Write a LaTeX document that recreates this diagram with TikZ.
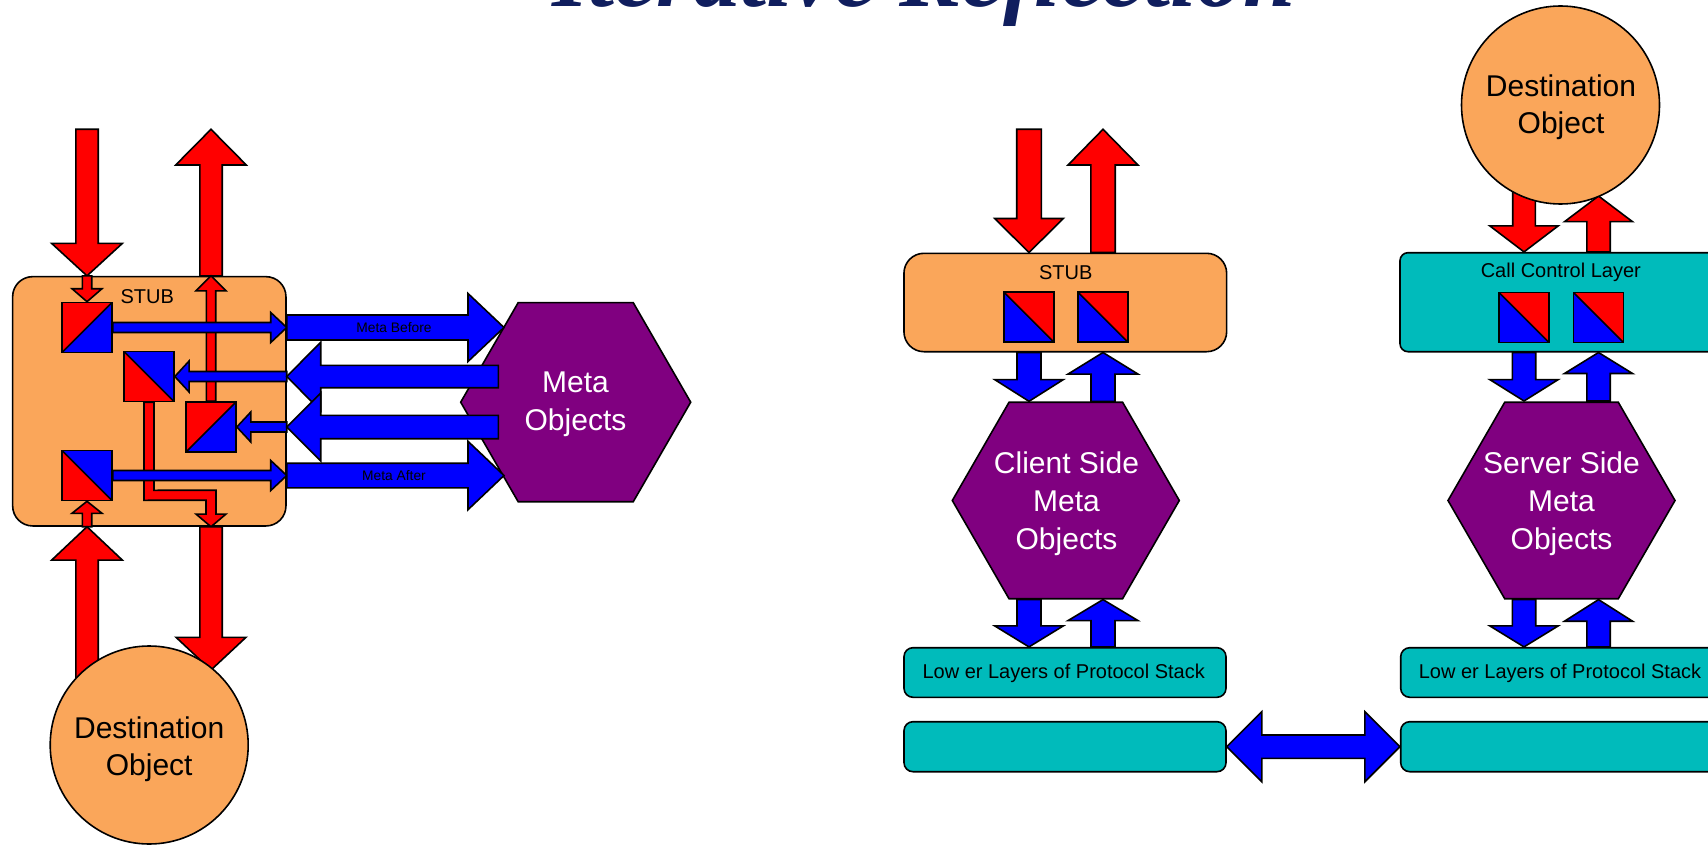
\documentclass[tikz,border=0pt]{standalone}
\usepackage{fontspec}
\setmainfont{Liberation Sans}
\newfontfamily\titlefont{Liberation Serif}
\usetikzlibrary{calc,shapes.geometric}

\definecolor{stuborange}{RGB}{250,166,90}
\definecolor{layerteal}{RGB}{0,187,187}
\definecolor{metapurple}{RGB}{128,0,128}
\definecolor{titlenavy}{RGB}{16,30,94}

% Block arrow from #2 to the tip #3:
% #4 half shaft width, #5 half head width, #6 head length
\newcommand\blockarrow[6][]{%
  \path ($(#3)!#6!(#2)$) coordinate (bahead);
  \filldraw[outlined,#1]
    ($(#2)!#4!90:(#3)$) -- ($(bahead)!#4!90:(#3)$) -- ($(bahead)!#5!90:(#3)$)
    -- (#3)
    -- ($(bahead)!#5!-90:(#3)$) -- ($(bahead)!#4!-90:(#3)$) -- ($(#2)!#4!-90:(#3)$)
    -- cycle;
}
% Block arrow with a head at both ends #2 and #3
\newcommand\doubleblockarrow[6][]{%
  \path ($(#2)!#6!(#3)$) coordinate (dbaL) ($(#3)!#6!(#2)$) coordinate (dbaR);
  \filldraw[outlined,#1]
    (#2) -- ($(dbaL)!#5!90:(#3)$) -- ($(dbaL)!#4!90:(#3)$) -- ($(dbaR)!#4!90:(#3)$)
    -- ($(dbaR)!#5!90:(#3)$) -- (#3) -- ($(dbaR)!#5!-90:(#3)$) -- ($(dbaR)!#4!-90:(#3)$)
    -- ($(dbaL)!#4!-90:(#3)$) -- ($(dbaL)!#5!-90:(#3)$) -- cycle;
}

\tikzset{
  outlined/.style={draw=black, line width=1.6pt, line join=miter},
  redarrow/.style={fill=red},
  bluearrow/.style={fill=blue},
  stubbox/.style={outlined, fill=stuborange, rounded corners=20pt, inner sep=0pt},
  layerbox/.style={outlined, fill=layerteal, rounded corners=9pt, inner sep=0pt},
  boxlabel/.style={inner sep=0pt, font=\fontsize{20}{24}\selectfont},
  arrowlabel/.style={inner sep=0pt, font=\fontsize{13.8}{16}\selectfont},
  metahex/.style={outlined, fill=metapurple, regular polygon, regular polygon sides=6, inner sep=0pt},
  metatext/.style={inner sep=0pt, text=white, align=center, font=\fontsize{30}{38}\selectfont},
  destcircle/.style={outlined, fill=stuborange, circle, inner sep=0pt, minimum size=198pt},
  desttext/.style={inner sep=0pt, align=center, font=\fontsize{30}{37}\selectfont},
  splitsq/.style={outlined, minimum size=50pt, inner sep=0pt},
  % red upper left, blue lower right
  sqRedNW/.style={splitsq, path picture={
    \fill[red] (path picture bounding box.north west) -- (path picture bounding box.north east)
      -- (path picture bounding box.south west) -- cycle;
    \fill[blue] (path picture bounding box.north east) -- (path picture bounding box.south east)
      -- (path picture bounding box.south west) -- cycle;
    \draw[line width=1.6pt] (path picture bounding box.south west) -- (path picture bounding box.north east);}},
  % blue upper right, red lower left
  sqBlueNE/.style={splitsq, path picture={
    \fill[blue] (path picture bounding box.north west) -- (path picture bounding box.north east)
      -- (path picture bounding box.south east) -- cycle;
    \fill[red] (path picture bounding box.north west) -- (path picture bounding box.south east)
      -- (path picture bounding box.south west) -- cycle;
    \draw[line width=1.6pt] (path picture bounding box.north west) -- (path picture bounding box.south east);}},
  % red upper right, blue lower left
  sqRedNE/.style={splitsq, path picture={
    \fill[red] (path picture bounding box.north west) -- (path picture bounding box.north east)
      -- (path picture bounding box.south east) -- cycle;
    \fill[blue] (path picture bounding box.north west) -- (path picture bounding box.south east)
      -- (path picture bounding box.south west) -- cycle;
    \draw[line width=1.6pt] (path picture bounding box.north west) -- (path picture bounding box.south east);}},
}

\begin{document}
\begin{tikzpicture}[x=1pt, y=-1pt]
\useasboundingbox (0,0) rectangle (1708,845);
\clip (0,0) rectangle (1708,845);

% ---------- title ----------
\node[anchor=base, inner sep=0pt, text=titlenavy,
  font=\titlefont\fontsize{94}{94}\selectfont\bfseries\itshape] (title) at (924,7) {Iterative Reflection};

% ================= single stub with meta objects =================
\node[stubbox, minimum width=273.3pt, minimum height=249.3pt] (stubL) at (149.3,401.3) {};
\node[boxlabel] (stubLtxt) at (147.3,296.5) {STUB};

\node[sqRedNW]  (sqLa) at (87,327.5) {};
\node[sqBlueNE] (sqLb) at (149,376.5) {};
\node[sqRedNW]  (sqLc) at (211,427) {};
\node[sqBlueNE] (sqLd) at (87,475.5) {};

\coordinate (inTop)    at (sqLa |- 0,129.3);
\coordinate (outTop)   at (sqLc |- 0,129.3);
\coordinate (stubInA)  at (sqLa |- stubL.north);
\coordinate (stubOutA) at (sqLc |- stubL.north);
\coordinate (stubInB)  at (sqLd |- stubL.south);
\coordinate (stubOutB) at (sqLc |- stubL.south);
\coordinate (eA) at (stubL.east |- sqLa);
\coordinate (eB) at (stubL.east |- sqLb);
\coordinate (eC) at (stubL.east |- sqLc);
\coordinate (eD) at (stubL.east |- sqLd);

% calls entering and leaving the stub
\blockarrow[redarrow]{inTop}{stubInA}{11.2pt}{35.3pt}{32.4pt}
\blockarrow[redarrow]{stubOutA}{outTop}{11.2pt}{35.3pt}{35.7pt}

% paths inside the stub
\blockarrow[redarrow]{stubInA}{sqLa.north}{4.7pt}{15pt}{13pt}
\blockarrow[redarrow]{sqLc.north}{stubOutA}{4.7pt}{15pt}{15pt}
\blockarrow[redarrow]{stubInB}{sqLd.south}{4.7pt}{15pt}{12pt}
\filldraw[outlined, redarrow]
  ($(sqLb.south)+(-5,0)$) -- ($(sqLb.south)+(-5,98)$) -- ($(stubOutB)+(-5,-26.5)$)
  -- ($(stubOutB)+(-5,-12.7)$) -- ($(stubOutB)+(-15,-12.7)$) -- (stubOutB)
  -- ($(stubOutB)+(15,-12.7)$) -- ($(stubOutB)+(5,-12.7)$) -- ($(stubOutB)+(5,-36.5)$)
  -- ($(sqLb.south)+(5,88)$) -- ($(sqLb.south)+(5,0)$) -- cycle;

\blockarrow[bluearrow]{sqLa.east}{eA}{5pt}{15pt}{16pt}
\blockarrow[bluearrow]{eB}{sqLb.east}{5pt}{15.5pt}{14.3pt}
\blockarrow[bluearrow]{eC}{sqLc.east}{5pt}{15pt}{14pt}
\blockarrow[bluearrow]{sqLd.east}{eD}{5pt}{15pt}{16pt}

% redraw the squares above the shafts
\node[sqRedNW]  at (sqLa) {};
\node[sqBlueNE] at (sqLb) {};
\node[sqRedNW]  at (sqLc) {};
\node[sqBlueNE] at (sqLd) {};

% meta objects
\node[metahex, minimum size=230pt] (metaL) at (575.7,402.2) {};
\node[metatext] (metaLtxt) at (575.5,404) {Meta\\Objects};

\coordinate (mbTip) at (504,327.5);
\coordinate (maTip) at (504,475.5);
\coordinate (back1) at (498.3,376.5);
\coordinate (back2) at (498.3,427);

\blockarrow[bluearrow]{eA}{mbTip}{12.5pt}{34pt}{36pt}
\blockarrow[bluearrow]{back1}{eB}{11.2pt}{34.3pt}{34pt}
\blockarrow[bluearrow]{back2}{eC}{11.7pt}{34pt}{34pt}
\blockarrow[bluearrow]{eD}{maTip}{12.3pt}{34.2pt}{36pt}
\node[arrowlabel] (mbLabel) at (394,327.5) {Meta Before};
\node[arrowlabel] (maLabel) at (394,475.5) {Meta After};

% destination object below
\coordinate (destUp)   at (sqLd |- 0,720);
\coordinate (destDown) at (sqLc |- 0,670);
\blockarrow[redarrow]{destUp}{stubInB}{11.2pt}{35.3pt}{33.3pt}
\blockarrow[redarrow]{stubOutB}{destDown}{11.2pt}{35pt}{32.7pt}
\node[destcircle] (destL) at (149.2,745) {};
\node[desttext] (destLtxt) at (149.2,749.5) {Destination\\Object};

% ================= client side =================
\node[stubbox, minimum width=322.7pt, minimum height=98.4pt] (stubC) at (1065.3,302.5) {};
\node[boxlabel] (stubCtxt) at (1065.7,273) {STUB};
\node[sqRedNE] (sqCa) at (1029,317.2) {};
\node[sqRedNE] (sqCb) at (1103,317.2) {};

\node[metahex, minimum size=227pt] (metaC) at (1065.8,500.5) {};
\node[metatext] (metaCtxt) at (1066.5,503.5) {Client Side\\Meta\\Objects};

\node[layerbox, minimum width=322pt, minimum height=49.6pt] (lowC) at (1065,672.5) {};
\node[boxlabel] (lowCtxt) at (1063.7,673.3) {Low er Layers of Protocol Stack};
\node[layerbox, minimum width=322pt, minimum height=50pt] (netC) at (1065,746.7) {};

\coordinate (cInTop)   at (sqCa |- 0,129.3);
\coordinate (cOutTop)  at (sqCb |- 0,129.3);
\coordinate (cInEnd)   at (sqCa |- stubC.north);
\coordinate (cOutEnd)  at (sqCb |- stubC.north);
\coordinate (cStubDnA) at (sqCa |- stubC.south);
\coordinate (cStubDnB) at (sqCb |- stubC.south);
\coordinate (cHexTopA) at (sqCa |- 0,401.3);
\coordinate (cHexTopB) at (sqCb |- 0,401.3);
\coordinate (cHexBotA) at (sqCa |- 0,599.6);
\coordinate (cHexBotB) at (sqCb |- 0,599.6);
\coordinate (cLowA)    at (sqCa |- lowC.north);
\coordinate (cLowB)    at (sqCb |- lowC.north);

\blockarrow[redarrow]{cInTop}{cInEnd}{12.3pt}{34.3pt}{34pt}
\blockarrow[redarrow]{cOutEnd}{cOutTop}{12.2pt}{35pt}{35.7pt}
\blockarrow[bluearrow]{cStubDnA}{cHexTopA}{12pt}{34.3pt}{21.7pt}
\blockarrow[bluearrow]{cHexTopB}{cStubDnB}{12pt}{35pt}{21.6pt}
\blockarrow[bluearrow]{cHexBotA}{cLowA}{12pt}{34.3pt}{21pt}
\blockarrow[bluearrow]{cLowB}{cHexBotB}{12pt}{35pt}{21pt}

% ================= server side =================
\node[layerbox, rounded corners=8pt, minimum width=360pt, minimum height=99pt] (ccS) at (1580,302.2) {};
\node[boxlabel] (ccStxt) at (1560.8,272.3) {Call Control Layer};
\node[sqRedNE] (sqSa) at (1524,317.5) {};
\node[sqRedNE] (sqSb) at (1598.5,317.5) {};

\node[metahex, minimum size=227pt] (metaS) at (1561.5,500.5) {};
\node[metatext] (metaStxt) at (1561.5,503.5) {Server Side\\Meta\\Objects};

\node[layerbox, minimum width=359.3pt, minimum height=49.6pt] (lowS) at (1580.35,672.5) {};
\node[boxlabel] (lowStxt) at (1560,673.3) {Low er Layers of Protocol Stack};
\node[layerbox, minimum width=359.3pt, minimum height=50pt] (netS) at (1580.35,746.7) {};

\coordinate (sInTop)   at (sqSa |- 0,190);
\coordinate (sOutTop)  at (sqSb |- 0,196);
\coordinate (sInEnd)   at (sqSa |- ccS.north);
\coordinate (sOutEnd)  at (sqSb |- ccS.north);
\coordinate (sStubDnA) at (sqSa |- ccS.south);
\coordinate (sStubDnB) at (sqSb |- ccS.south);
\coordinate (sHexTopA) at (sqSa |- 0,401);
\coordinate (sHexTopB) at (sqSb |- 0,401);
\coordinate (sHexBotA) at (sqSa |- 0,599.6);
\coordinate (sHexBotB) at (sqSb |- 0,599.6);
\coordinate (sLowA)    at (sqSa |- lowS.north);
\coordinate (sLowB)    at (sqSb |- lowS.north);

\blockarrow[redarrow]{sInTop}{sInEnd}{11.3pt}{34.2pt}{26pt}
\blockarrow[redarrow]{sOutEnd}{sOutTop}{11.7pt}{34pt}{25.7pt}
\blockarrow[bluearrow]{sStubDnA}{sHexTopA}{11.7pt}{34.2pt}{21.4pt}
\blockarrow[bluearrow]{sHexTopB}{sStubDnB}{11.7pt}{34pt}{21pt}
\blockarrow[bluearrow]{sHexBotA}{sLowA}{11.7pt}{34.2pt}{21pt}
\blockarrow[bluearrow]{sLowB}{sHexBotB}{11.7pt}{34pt}{21.6pt}

\node[destcircle] (destS) at (1560.5,105) {};
\node[desttext] (destStxt) at (1561,107) {Destination\\Object};

% link between the two protocol stacks
\doubleblockarrow[bluearrow]{netC.east}{netS.west}{11.7pt}{35pt}{35pt}
\end{tikzpicture}
\end{document}
